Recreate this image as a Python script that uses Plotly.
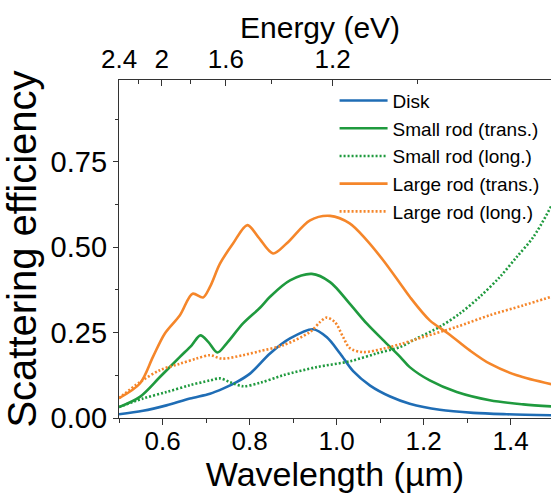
import plotly.graph_objects as go

# ---------------- data ----------------
disk_wl = [0.50, 0.555, 0.609, 0.663, 0.709, 0.739, 0.770, 0.801, 0.847, 0.893, 0.946,
           0.977, 1.008, 1.038, 1.077, 1.123, 1.168, 1.237, 1.314, 1.391, 1.493]
disk_val = [0.011, 0.021, 0.037, 0.057, 0.071, 0.086, 0.105, 0.130, 0.189, 0.233, 0.260,
            0.237, 0.189, 0.137, 0.095, 0.063, 0.042, 0.024, 0.015, 0.011, 0.008]

srt_wl = [0.50, 0.548, 0.594, 0.640, 0.667, 0.687, 0.705, 0.726, 0.747, 0.785, 0.824,
          0.847, 0.893, 0.943, 0.985, 1.030, 1.069, 1.107, 1.146, 1.168, 1.214, 1.276,
          1.352, 1.429, 1.493]
srt_val = [0.032, 0.062, 0.120, 0.179, 0.213, 0.242, 0.223, 0.192, 0.218, 0.277, 0.323,
           0.355, 0.403, 0.422, 0.398, 0.335, 0.277, 0.228, 0.179, 0.149, 0.110, 0.076,
           0.052, 0.040, 0.034]

srl_wl = [0.50, 0.555, 0.609, 0.663, 0.709, 0.732, 0.755, 0.785, 0.824, 0.877, 0.954,
          1.030, 1.092, 1.146, 1.184, 1.237, 1.283, 1.329, 1.375, 1.414, 1.452, 1.493]
srl_val = [0.032, 0.057, 0.076, 0.096, 0.110, 0.116, 0.105, 0.093, 0.103, 0.125, 0.149,
           0.166, 0.189, 0.208, 0.233, 0.267, 0.306, 0.355, 0.413, 0.472, 0.530, 0.620]

lrt_wl = [0.50, 0.548, 0.578, 0.605, 0.640, 0.669, 0.693, 0.709, 0.732, 0.762, 0.795,
          0.820, 0.854, 0.885, 0.939, 0.985, 1.030, 1.069, 1.107, 1.146, 1.168, 1.214,
          1.257, 1.306, 1.352, 1.414, 1.493]
lrt_val = [0.058, 0.101, 0.179, 0.247, 0.301, 0.364, 0.353, 0.384, 0.452, 0.511, 0.565,
           0.530, 0.482, 0.511, 0.579, 0.592, 0.570, 0.521, 0.462, 0.394, 0.355, 0.286,
           0.247, 0.198, 0.159, 0.125, 0.099]

lrl_wl = [0.50, 0.548, 0.594, 0.640, 0.678, 0.709, 0.736, 0.785, 0.824, 0.877, 0.939,
          0.962, 0.977, 0.996, 1.015, 1.030, 1.061, 1.107, 1.146, 1.199, 1.276, 1.352,
          1.429, 1.493]
lrl_val = [0.058, 0.105, 0.140, 0.159, 0.174, 0.184, 0.174, 0.184, 0.196, 0.213, 0.252,
           0.281, 0.294, 0.281, 0.237, 0.205, 0.193, 0.203, 0.216, 0.237, 0.267, 0.301,
           0.330, 0.355]

series_names = ["Disk", "Small rod (trans.)", "Small rod (long.)",
                "Large rod (trans.)", "Large rod (long.)"]

# top axis (energy) ticks
energy_major = [2.4, 2.0, 1.6, 1.2]
energy_major_text = ["2.4", "2", "1.6", "1.2"]
energy_minor = [2.2, 1.8, 1.4, 1.0]

y_ticks = [0.0, 0.25, 0.50, 0.75]

# ---------------- styling ----------------
BLUE = "#1f6db5"
GREEN = "#1f9a3e"
ORANGE = "#f5862a"
FONT = "Liberation Sans, Arial, sans-serif"
LW = 2.6

# conversion used by the original energy axis
E_A, E_B = 1.177, 0.0098
def e_to_wl(e):
    return E_A / e + E_B

fig = go.Figure()
specs = [
    (disk_wl, disk_val, BLUE, "solid"),
    (srt_wl, srt_val, GREEN, "solid"),
    (srl_wl, srl_val, GREEN, "2px,2px"),
    (lrt_wl, lrt_val, ORANGE, "solid"),
    (lrl_wl, lrl_val, ORANGE, "2px,2px"),
]
for name, (xs, ys, col, dash) in zip(series_names, specs):
    fig.add_trace(go.Scatter(
        x=xs, y=ys, mode="lines", name=name,
        line=dict(color=col, width=LW, dash=dash, shape="spline", smoothing=0.9),
    ))

# invisible trace bound to top axis so it renders
fig.add_trace(go.Scatter(x=[0.5], y=[0], xaxis="x2", mode="markers",
                         marker=dict(opacity=0), showlegend=False, hoverinfo="skip"))

XR = [0.5, 1.4926]
fig.update_layout(
    width=551, height=493,
    margin=dict(l=119, r=0, t=80, b=75),
    paper_bgcolor="white", plot_bgcolor="white",
    font=dict(family=FONT, color="black"),
    showlegend=True,
    legend=dict(
        x=0.499, y=0.995, xanchor="left", yanchor="top",
        bgcolor="rgba(0,0,0,0)", borderwidth=0,
        font=dict(family=FONT, size=19, color="black"),
        itemwidth=48,
    ),
    xaxis=dict(
        range=XR, showgrid=False, zeroline=False,
        showline=True, linecolor="#333", linewidth=1.3,
        ticks="outside", ticklen=6, tickwidth=1.3, tickcolor="#333",
        tick0=0.6, dtick=0.2, tickformat=".1f",
        tickfont=dict(size=26, family=FONT),
        ticklabelstandoff=-6,
        minor=dict(dtick=0.1, tick0=0.5, ticks="outside", ticklen=3.5,
                   tickwidth=1.2, tickcolor="#333"),
        title=dict(text="Wavelength (µm)", font=dict(size=34, family=FONT), standoff=0),
    ),
    xaxis2=dict(
        range=XR, overlaying="x", side="top", showgrid=False, zeroline=False,
        showline=True, linecolor="#333", linewidth=1.3,
        ticks="inside", ticklen=6, tickwidth=1.3, tickcolor="#333",
        tickmode="array",
        tickvals=[e_to_wl(e) for e in energy_major], ticktext=energy_major_text,
        tickfont=dict(size=26, family=FONT),
        minor=dict(tickmode="array", tickvals=[e_to_wl(e) for e in energy_minor],
                   ticks="inside", ticklen=3.5, tickwidth=1.2, tickcolor="#333"),
    ),
    yaxis=dict(
        range=[0, 0.99], showgrid=False, zeroline=False,
        showline=True, linecolor="#333", linewidth=1.3,
        ticks="outside", ticklen=5, tickwidth=1.3, tickcolor="#333",
        tickmode="array", tickvals=y_ticks, tickformat=".2f",
        tickfont=dict(size=29, family=FONT),
        minor=dict(dtick=0.125, tick0=0, ticks="outside", ticklen=3,
                   tickwidth=1.2, tickcolor="#333"),
        title=dict(text="Scattering efficiency", font=dict(size=40, family=FONT), standoff=8),
    ),
    annotations=[dict(
        text="Energy (eV)", xref="paper", yref="paper", x=0.465, y=1.0,
        yshift=53, xanchor="center", yanchor="middle", showarrow=False,
        font=dict(size=30, family=FONT, color="black"),
    )],
)

fig.write_html("out.html",
               config={"displayModeBar": False},
               post_script="document.body.style.margin='0';document.body.style.padding='0';")
